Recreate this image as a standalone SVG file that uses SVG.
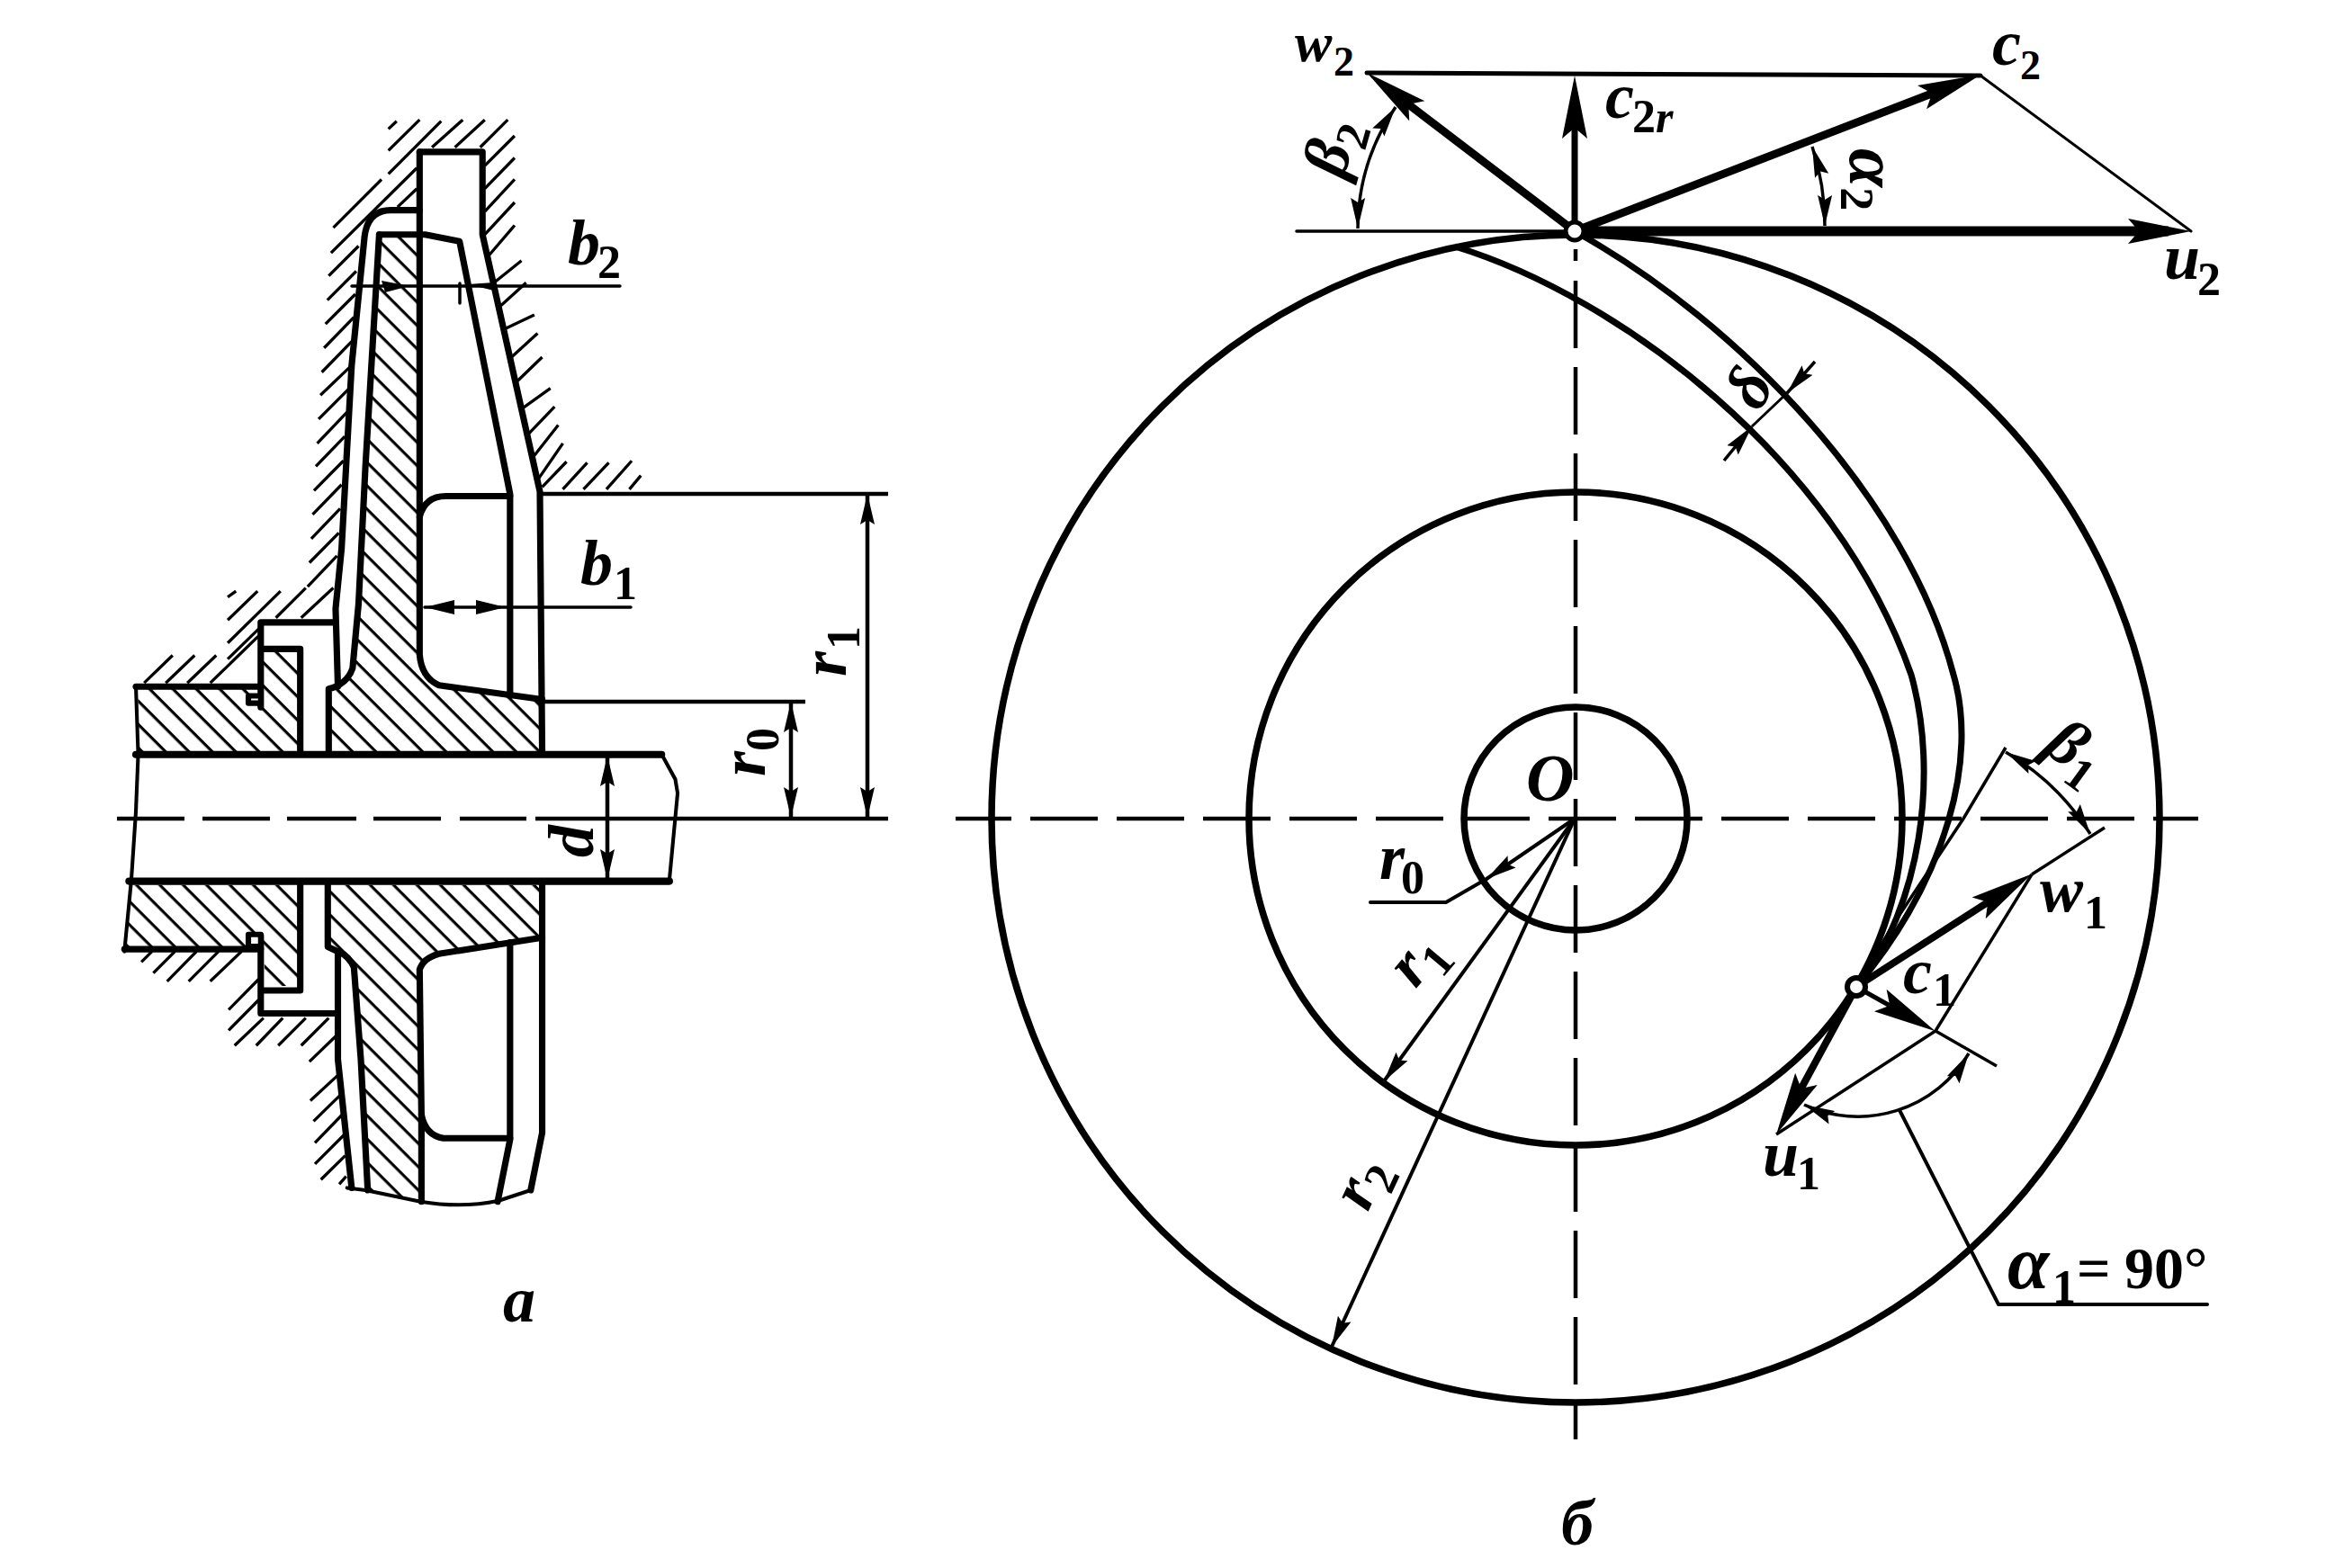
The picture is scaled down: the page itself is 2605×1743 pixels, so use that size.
<svg xmlns="http://www.w3.org/2000/svg" width="2605" height="1743" viewBox="0 0 2605 1743">
<style>
.l{font-family:"Liberation Serif","Times New Roman",serif;font-weight:700;font-style:italic;font-size:72px;fill:#000}
.s{font-size:52px;font-style:normal}
.si{font-size:50px;font-style:italic}
.u{font-style:normal}
.o{fill:none;stroke:#000;stroke-width:14;stroke-linejoin:round;stroke-linecap:round}
.m{fill:none;stroke:#000;stroke-width:8;stroke-linejoin:round;stroke-linecap:round}
.c{fill:none;stroke:#000;stroke-width:6.5;stroke-linecap:butt}
.t{fill:none;stroke:#000;stroke-width:4;stroke-linejoin:round;stroke-linecap:round}
.d{fill:none;stroke:#000;stroke-width:4.5;stroke-linecap:butt}
.v{fill:none;stroke:#000;stroke-linecap:butt}
.b{fill:none;stroke:#000;stroke-width:7;stroke-linecap:butt}
.dash{stroke-dasharray:75 21}
</style>
<defs>
<pattern id="h" width="36" height="36" patternUnits="userSpaceOnUse" patternTransform="rotate(45)"><line x1="0" y1="3" x2="36" y2="3" stroke="#000" stroke-width="6.5"/></pattern>
<marker id="a" markerUnits="userSpaceOnUse" markerWidth="36" markerHeight="18" refX="34" refY="9" orient="auto-start-reverse"><path d="M34,9 L0,1 L5,9 L0,17 Z" fill="#000"/></marker>
<marker id="big" markerUnits="userSpaceOnUse" markerWidth="74" markerHeight="32" refX="45" refY="16" orient="auto"><path d="M70,16 L0,2 L12,16 L0,30 Z" fill="#000"/></marker>
</defs>
<rect width="2605" height="1743" fill="#fff"/>

<g id="section-upper" transform="translate(100 100) scale(.5102)">
<path fill="url(#h)" d="M632,320 L718,320 L718,1240 L755,1300 L985,1330 L985,1445 L520,1445 L520,1305 L555,1290 L575,1260 L590,1120 L602,820 Z"/>
<path fill="url(#h)" d="M105,1305 L372,1305 L372,1218 L458,1218 L458,1445 L105,1445 Z"/>
<path class="c" d="M650,85 L668,68 M650,132 L718,65 M650,183 L765,68 M745,125 L812,65 M795,125 L860,65 M850,125 L910,65 M530,300 L635,195 M525,355 L712,170 M670,255 L712,215 M520,405 L585,340 M517,458 L580,395 M513,510 L578,445 M510,562 L575,495 M505,615 L570,548 M502,665 L570,600 M498,717 L565,650 M495,770 L560,702 M492,820 L555,755 M488,873 L552,808 M485,925 L548,860 M482,978 L545,912 M478,1030 L542,965 M474,1082 L538,1015 M300,1105 L318,1092 M300,1155 L365,1092 M300,1205 L415,1092 M405,1150 L470,1085 M460,1150 L530,1085 M372,1170 L300,1240 M118,1292 L180,1232 M165,1292 L228,1232 M212,1292 L275,1232 M262,1292 L372,1185 M860,165 L925,100 M860,215 L925,148 M860,265 L925,195 M860,315 L925,245 M865,365 L925,295 M880,420 L940,372 M895,470 L950,420 M905,520 L968,490 M915,585 L975,530 M925,640 L985,582 M940,695 L1003,650 M950,755 L1012,690 M965,800 L1020,730 M975,850 L1030,770 M985,865 L1038,810 M1030,870 L1083,812 M1075,870 L1130,812 M1125,870 L1180,808 M1175,870 L1200,840"/>
<path class="o" d="M718,135 H855 V315 L980,875 L985,1445"/>
<path class="o" d="M718,135 V1230 Q722,1280 760,1297 L985,1328"/>
<path class="o" d="M630,315 H730 L805,330 L915,880 V1320"/>
<path class="o" d="M718,930 Q730,885 775,885 H915"/>
<path class="o" d="M718,262 H655 Q605,262 598,320 L570,600 L548,1000 L535,1130 L540,1300"/>
<path class="o" d="M630,315 L600,820 L585,1120 L572,1260 Q560,1295 520,1305 V1445"/>
<path class="o" d="M535,1160 H372 V1345"/>
<path class="o" d="M378,1218 H458 V1445"/>
<path class="o" d="M100,1300 H372"/>
<path class="m" style="fill:#fff;stroke-width:12" d="M345,1320 H372 V1336 H345 Z"/>
<path class="o" style="stroke-width:16" d="M100,1448 H1245"/>
<path class="m" d="M100,1300 L105,1448"/>
</g>

<g id="section-lower" transform="translate(100 800) scale(.5102)">
<path fill="url(#h)" d="M520,360 H985 V475 L745,510 L718,545 L722,1050 L610,1030 L590,740 L575,540 L540,505 L518,495 Z"/>
<path fill="url(#h)" d="M90,360 H458 V580 H380 V495 H80 Z"/>
<path class="c" d="M112,528 L135,505 M138,552 L185,505 M168,570 L232,505 M215,570 L280,505 M262,570 L330,505 M302,632 L368,565 M302,677 L368,610 M315,710 L378,650 M362,710 L420,650 M410,710 L470,650 M460,710 L520,650 M478,745 L535,690 M480,830 L545,770 M487,875 L548,815 M490,922 L550,860 M490,968 L553,905 M503,1002 L556,950 M543,1012 L558,995"/>
<path class="m" d="M1245,75 L1275,130 L1280,160 L1262,350"/>
<path class="m" d="M105,75 L100,200 L90,350 L75,505"/>
<path class="o" style="stroke-width:16" d="M85,352 H1262"/>
<path class="o" d="M75,500 H372"/>
<path class="o" d="M372,470 V640 H535"/>
<path class="m" style="fill:#fff;stroke-width:12" d="M345,468 H372 V494 H345 Z"/>
<path class="o" d="M378,590 H458 V360"/>
<path class="o" d="M985,360 V900 L960,1025"/>
<path class="o" d="M915,485 V915 L888,1050"/>
<path class="m" d="M560,1020 L600,1025 L720,1050 Q810,1065 890,1048 L960,1025"/>
<path class="o" d="M985,475 L760,510 Q725,520 718,545 L722,860 Q730,905 770,912 H915"/>
<path class="o" d="M722,860 V1050"/>
<path class="o" d="M518,360 V495 L540,505 Q565,515 575,540 L590,740 L605,1025"/>
<path class="o" d="M540,505 V740 L570,1020"/>
</g>

<g id="section-dimensions">
<path class="t" style="stroke-width:3.5" d="M391,318 H689 M511,315 V337"/>
<path d="M424,312 L455,318 L428,325 Z M520,316 L549,314 V323 Z" fill="#000"/>
<path class="t" style="stroke-width:3.5" d="M472,675 H701"/>
<path d="M472,675 L505,667 V683 Z M562,675 L529,667 V683 Z" fill="#000"/>
<path class="d" d="M600,549 H987 M600,780 H895"/>
<path class="d" d="M964,549 V909" marker-start="url(#a)" marker-end="url(#a)"/>
<path class="d" d="M879,780 V909" marker-start="url(#a)" marker-end="url(#a)"/>
<path class="d" d="M675,840 V978" marker-start="url(#a)" marker-end="url(#a)"/>
<path class="d" d="M130,910 H205 M225,910 H300 M319,910 H396 M415,910 H490 M511,910 H585 M595,910 H987"/>
<text class="l" x="631" y="294">b<tspan class="s" x="664" y="309">2</tspan></text>
<text class="l" x="645" y="650">b<tspan class="s" x="682" y="666">1</tspan></text>
<text class="l" transform="translate(940 752) rotate(-90)">r<tspan class="s" dy="15" dx="2">1</tspan></text>
<text class="l" transform="translate(850 863) rotate(-90)">r<tspan class="s" dy="15" dx="0">0</tspan></text>
<text class="l" transform="translate(659 953) rotate(-90)">d</text>
<text class="l" x="559" y="1469">a</text>
</g>

<g id="wheel">
<circle cx="1751" cy="910" r="649" fill="none" stroke="#000" stroke-width="7.5"/>
<circle cx="1751" cy="910" r="363" fill="none" stroke="#000" stroke-width="7.5"/>
<circle cx="1751" cy="910" r="124" fill="none" stroke="#000" stroke-width="7.5"/>
<path class="d dash" d="M2443,910 H1062" style="stroke-dashoffset:25"/>
<path class="d dash" d="M1751,312 V1600"/>
<path class="d" d="M1751,277 V290"/>
<path id="blade-inner" class="b" d="M1617,274 C1800,330 2040,510 2124,750 C2155,860 2135,1010 2063,1097"/>
<path id="blade-outer" class="b" d="M1750,257 C1935,360 2120,555 2171,750 C2198,842 2165,975 2063,1097"/>
</g>

<g id="connectors">
<path class="t" style="stroke-width:3.5" d="M1441,257 H1750"/>
<path class="t" style="stroke-width:5" d="M1519,81 L2201,84"/>
<path class="t" style="stroke-width:3" d="M2201,84 L2435,257"/>
<path class="v" style="stroke-width:11" d="M1750,257 H2410" marker-end="url(#big)"/>
<path class="v" style="stroke-width:9" d="M1750,257 L2178,92" marker-end="url(#big)"/>
<path class="v" style="stroke-width:9" d="M1750,257 L1539,96" marker-end="url(#big)"/>
<path class="v" style="stroke-width:7" d="M1750,257 V109" marker-end="url(#big)"/>
<path class="d" d="M1509,254 A241,241 0 0 1 1551,119" marker-start="url(#a)" marker-end="url(#a)" style="stroke-width:3.5"/>
<path class="d" d="M2028,251 A279,279 0 0 0 2014,163" marker-start="url(#a)" marker-end="url(#a)" style="stroke-width:3.5"/>
<path class="d" d="M2017,402 L1986,437" marker-end="url(#a)" style="stroke-width:3.5"/>
<path class="d" d="M1916,512 L1947,474" marker-end="url(#a)" style="stroke-width:3.5"/>
<path class="d" d="M1986,437 L1947,474" style="stroke-width:3"/>
<path class="d" d="M1538,1202 L1750,910" marker-start="url(#a)" style="stroke-width:4"/>
<path class="d" d="M1652,977 L1750,910" marker-start="url(#a)" style="stroke-width:4"/>
<path class="t" d="M1652,977 L1607,1003 H1523"/>
<path class="d" d="M1480,1497 L1750,910" marker-start="url(#a)" style="stroke-width:4"/>
<path class="d" style="stroke-width:3.5" d="M2229,831 L2182,910 L2107,1023 L2070,1085"/>
<path class="d" style="stroke-width:3.5" d="M2339,920 L2258,972"/>
<path class="d" style="stroke-width:3.5" d="M2258,972 L2151,1146 L1974,1261"/>
<path class="d" style="stroke-width:3.5" d="M2151,1146 L2219,1185"/>
<path class="d" style="stroke-width:3.5" d="M2229,836 A270,270 0 0 1 2323,927" marker-start="url(#a)" marker-end="url(#a)"/>
<path class="d" style="stroke-width:3.5" d="M2005,1228 A143,143 0 0 0 2188,1171" marker-start="url(#a)" marker-end="url(#a)"/>
<path class="v" style="stroke-width:8" d="M2063,1097 L2237,985" marker-end="url(#big)"/>
<path class="v" style="stroke-width:5" d="M2063,1097 L2129,1134" marker-end="url(#big)"/>
<path class="v" style="stroke-width:8" d="M2063,1097 L1986,1239" marker-end="url(#big)"/>
<path class="t" d="M2111,1234 L2221,1450 H2453"/>
</g>

<g id="point-p2"><circle cx="1750" cy="257" r="10" fill="#fff" stroke="#000" stroke-width="5"/></g>
<g id="point-p1"><circle cx="2063" cy="1097" r="10" fill="#fff" stroke="#000" stroke-width="6"/></g>

<g id="labels">
<text class="l" x="1439" y="68" style="font-size:62px">w<tspan class="s" style="font-size:46px" x="1482" y="84">2</tspan></text>
<text class="l" x="2214" y="72">c<tspan class="s" style="font-size:46px" x="2245" y="88">2</tspan></text>
<text class="l" x="1784" y="131">c<tspan class="s" x="1814" y="147">2</tspan><tspan class="si" x="1840" y="147">r</tspan></text>
<text class="l" x="2405" y="310">u<tspan class="s" x="2442" y="328">2</tspan></text>
<text class="l" transform="translate(1493 200) rotate(-74)">β<tspan class="s" dy="14">2</tspan></text>
<text class="l" transform="translate(2056 165) rotate(90)" style="font-size:78px">α<tspan class="s" dy="10">2</tspan></text>
<text class="l" text-anchor="middle" transform="translate(1947 433) rotate(-60)" y="20">δ</text>
<text class="l" x="1696" y="890" style="font-size:74px">O</text>
<text class="l" x="1533" y="977">r<tspan class="s" x="1557" y="993">0</tspan></text>
<text class="l" transform="translate(1573 1100) rotate(-50)">r<tspan class="s" dy="15">1</tspan></text>
<text class="l" transform="translate(1520 1348) rotate(-65)">r<tspan class="s" dy="15">2</tspan></text>
<text class="l" x="1735" y="1717">б</text>
<text class="l" x="2267" y="1013">w<tspan class="s" x="2316" y="1032">1</tspan></text>
<text class="l" x="2115" y="1104">c<tspan class="s" x="2148" y="1118">1</tspan></text>
<text class="l" x="1959" y="1307">u<tspan class="s" x="1997" y="1322">1</tspan></text>
<text class="l" transform="translate(2269 834) rotate(36)">β<tspan class="s" dy="14">1</tspan></text>
<text class="l" x="2231" y="1432" style="font-size:84px">α<tspan class="s" x="2281" y="1448">1</tspan><tspan class="u" style="font-size:66px" x="2308" y="1432">=</tspan><tspan class="u" style="font-size:66px" x="2361" y="1432">90</tspan><tspan class="u" style="font-size:66px" x="2427" y="1432">°</tspan></text>
</g>
</svg>
